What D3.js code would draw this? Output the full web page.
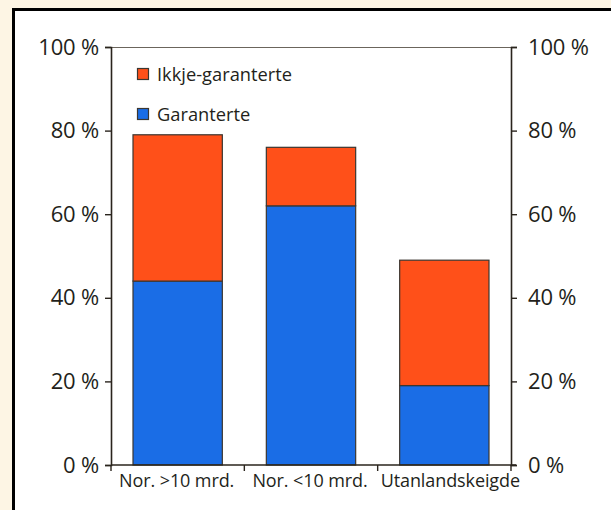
<!DOCTYPE html>
<html>
<head>
<meta charset="utf-8">
<script src="https://cdn.jsdelivr.net/npm/d3@7"></script>
<style>
  html, body { margin: 0; padding: 0; background: #fdf5e4; }
  svg { display: block; }
  text { font-family: "Open Sans", "Noto Sans", sans-serif; fill: #231f1a; }
</style>
</head>
<body>
<script>
// Andel eigarskap per gruppe, i prosent
const categories = ["Nor. >10 mrd.", "Nor. <10 mrd.", "Utanlandskeigde"];
const garanterte = [44, 62, 19];
const ikkjeGaranterte = [35, 14, 30];
const seriesNames = ["Garanterte", "Ikkje-garanterte"];
const yTicks = [0, 20, 40, 60, 80, 100];

const W = 611, H = 510;
const colors = { "Garanterte": "#1a6de6", "Ikkje-garanterte": "#ff5019" };
const axisColor = "#2a241d";

const svg = d3.select("body").append("svg").attr("width", W).attr("height", H);

// white panel with heavy black frame
svg.append("rect")
  .attr("x", 13.5).attr("y", 9.5)
  .attr("width", W + 20).attr("height", H + 20)
  .attr("fill", "#ffffff").attr("stroke", "#000").attr("stroke-width", 3);

const plot = { left: 111, right: 511, top: 47, bottom: 465 };

const x = d3.scaleBand().domain(categories)
  .range([plot.left, plot.right]).paddingInner(0.33).paddingOuter(0.165);
const xTicksScale = d3.scaleBand().domain(categories).range([plot.left, plot.right]);
const y = d3.scaleLinear().domain([0, 100]).range([plot.bottom, plot.top]);

const rows = categories.map((c, i) => ({
  category: c, "Garanterte": garanterte[i], "Ikkje-garanterte": ikkjeGaranterte[i]
}));
const stacked = d3.stack().keys(seriesNames)(rows);

// top frame line
svg.append("line")
  .attr("x1", plot.left).attr("x2", plot.right)
  .attr("y1", plot.top + 0.5).attr("y2", plot.top + 0.5)
  .attr("stroke", "#6b655c").attr("stroke-width", 1.2);

// bars
svg.append("g").selectAll("g").data(stacked).join("g")
  .attr("fill", d => colors[d.key])
  .selectAll("rect").data(d => d).join("rect")
  .attr("x", d => x(d.data.category))
  .attr("width", x.bandwidth())
  .attr("y", d => y(d[1]))
  .attr("height", d => y(d[0]) - y(d[1]))
  .attr("stroke", "#3b3630").attr("stroke-width", 1.2);

const fmt = d => d + " %";

// left axis
const gl = svg.append("g").attr("transform", `translate(${plot.left},0)`)
  .call(d3.axisLeft(y).tickValues(yTicks).tickFormat(fmt).tickSize(6).tickPadding(6));
// right axis
const gr = svg.append("g").attr("transform", `translate(${plot.right},0)`)
  .call(d3.axisRight(y).tickValues(yTicks).tickFormat(fmt).tickSize(6).tickPadding(11));
[gl, gr].forEach(g => {
  g.select(".domain").attr("stroke", axisColor).attr("stroke-width", 1.6);
  g.selectAll(".tick line").attr("stroke", axisColor).attr("stroke-width", 1.4);
  g.selectAll(".tick text").attr("font-size", 22).attr("fill", "#231f1a")
    .attr("font-family", "'Open Sans', sans-serif").attr("letter-spacing", -0.2);
});

// bottom axis: ticks at band boundaries, labels centred in bands
const gb = svg.append("g").attr("transform", `translate(0,${plot.bottom})`);
gb.append("line").attr("x1", plot.left).attr("x2", plot.right + 5)
  .attr("stroke", axisColor).attr("stroke-width", 1.6);
const edges = categories.map(c => xTicksScale(c)).concat([plot.right]);
gb.selectAll("line.edge").data(edges).join("line").attr("class", "edge")
  .attr("x1", d => d).attr("x2", d => d).attr("y1", 0).attr("y2", 6)
  .attr("stroke", axisColor).attr("stroke-width", 1.4);
gb.selectAll("text").data(categories).join("text")
  .attr("x", (d, i) => xTicksScale(d) + xTicksScale.bandwidth() / 2 + (i === 2 ? 6 : -1))
  .attr("y", 21.5).attr("text-anchor", "middle")
  .attr("font-size", 18).attr("letter-spacing", -0.1)
  .text(d => d);

// legend
const legend = svg.append("g");
const legendItems = ["Ikkje-garanterte", "Garanterte"];
legendItems.forEach((name, i) => {
  const ly = 68 + i * 40;
  legend.append("rect").attr("x", 137.5).attr("y", ly + 0.5).attr("width", 11).attr("height", 11)
    .attr("fill", colors[name]).attr("stroke", "#3b3630").attr("stroke-width", 1.2);
  legend.append("text").attr("x", 157).attr("y", ly + 13)
    .attr("font-size", 18.3).text(name);
});
</script>
</body>
</html>
